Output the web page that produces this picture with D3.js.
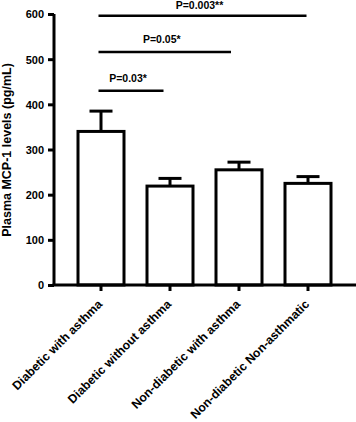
<!DOCTYPE html>
<html>
<head>
<meta charset="utf-8">
<script src="https://cdn.jsdelivr.net/npm/d3@7"></script>
<style>
  html, body { margin: 0; padding: 0; background: #fff; }
  svg { display: block; }
  text { font-family: Arial, "Liberation Sans", sans-serif; font-weight: bold; fill: #000; }
</style>
</head>
<body>
<script>
// ---- Data ----
const categories = ["Diabetic with asthma", "Diabetic without asthma", "Non-diabetic with asthma", "Non-diabetic Non-asthmatic"];
const means = [340, 219, 255, 225];
const sems = [45, 17, 17, 15];
const yTicks = [0, 100, 200, 300, 400, 500, 600];
const yLabel = "Plasma MCP-1 levels (pg/mL)";
const compLabels = ["P=0.03*", "P=0.05*", "P=0.003**"];
const compFrom = [0, 0, 0];
const compTo = [1, 2, 3];
const compLevel = [430, 516, 596];

// ---- Layout ----
const W = 356, H = 422;
const svg = d3.select("body").append("svg").attr("width", W).attr("height", H);

const y = d3.scaleLinear().domain([0, 600]).range([285, 14]);
const x = d3.scaleBand().domain(categories).range([78, 331]).paddingInner(1 - 46 / 69).paddingOuter(0);
const cx = c => x(c) + x.bandwidth() / 2;
const axisX0 = 54;

// Bars
svg.append("g").selectAll("rect").data(categories).join("rect")
  .attr("x", c => x(c))
  .attr("y", (c, i) => y(means[i]))
  .attr("width", x.bandwidth())
  .attr("height", (c, i) => y(0) - y(means[i]))
  .attr("fill", "#fff").attr("stroke", "#000").attr("stroke-width", 3);

// Error bars
const eb = svg.append("g").attr("stroke", "#000").attr("stroke-width", 3);
categories.forEach((c, i) => {
  eb.append("line").attr("x1", cx(c)).attr("x2", cx(c))
    .attr("y1", y(means[i])).attr("y2", y(means[i] + sems[i]));
  eb.append("line").attr("x1", cx(c) - 11.5).attr("x2", cx(c) + 11.5)
    .attr("y1", y(means[i] + sems[i])).attr("y2", y(means[i] + sems[i]));
});

// Y axis
const yAxis = d3.axisLeft(y).tickValues(yTicks).tickSize(6).tickPadding(4).tickSizeOuter(0);
const gy = svg.append("g").attr("transform", `translate(${axisX0},0)`).call(yAxis);
gy.select(".domain").attr("stroke-width", 3).attr("d", `M0,${y(600)}V${y(0)}`);
gy.selectAll(".tick line").attr("stroke-width", 3);
gy.selectAll(".tick text").style("font-size", "11px").attr("dy", "0.36em");

// X axis
const xAxis = d3.axisBottom(x).tickSize(6).tickSizeOuter(0).tickFormat("");
const gx = svg.append("g").attr("transform", `translate(0,${y(0)})`).call(xAxis);
gx.select(".domain").attr("stroke-width", 3).attr("d", `M${axisX0 - 1.5},0H${W}`);
gx.selectAll(".tick line").attr("stroke-width", 3);

// X labels
svg.append("g").selectAll("text").data(categories).join("text")
  .attr("transform", c => `translate(${cx(c) + 2},${y(0) + 20}) rotate(-45)`)
  .attr("text-anchor", "end")
  .style("font-size", "12.2px")
  .text(c => c);

// Y label
svg.append("text")
  .attr("transform", `translate(11,150) rotate(-90)`)
  .attr("text-anchor", "middle")
  .style("font-size", "12.5px")
  .text(yLabel);

// Significance lines
const endInset = [6.5, 8, 1.5];
compLabels.forEach((lab, i) => {
  const x1 = cx(categories[compFrom[i]]) - 2.5;
  const x2 = cx(categories[compTo[i]]) - endInset[i];
  const yy = y(compLevel[i]);
  svg.append("line").attr("x1", x1).attr("x2", x2).attr("y1", yy).attr("y2", yy)
    .attr("stroke", "#000").attr("stroke-width", 2.5);
  svg.append("text")
    .attr("x", (x1 + x2) / 2 - 3).attr("y", Math.max(yy - 9, 8.5))
    .attr("text-anchor", "middle")
    .style("font-size", "10.5px")
    .text(lab);
});
</script>
</body>
</html>
